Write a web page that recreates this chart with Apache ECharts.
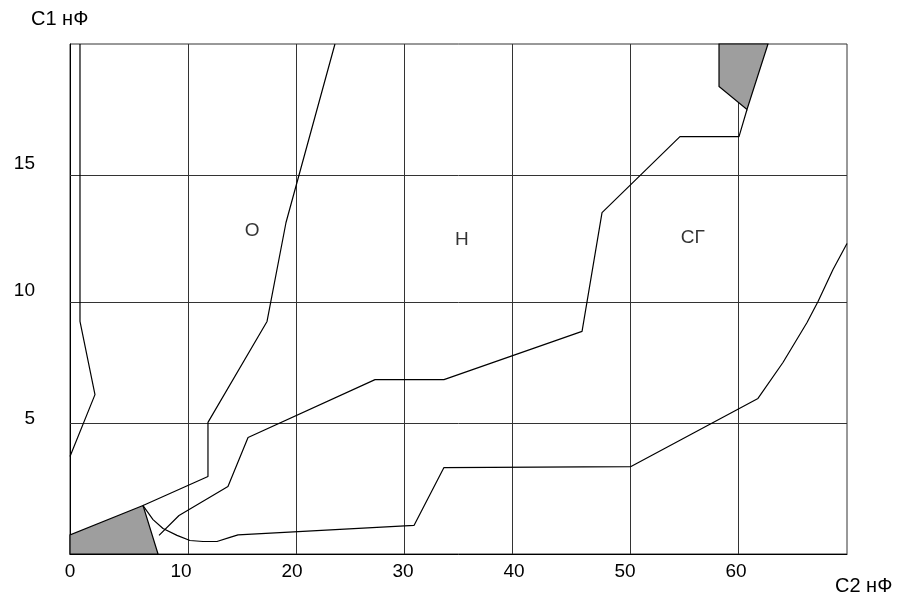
<!DOCTYPE html>
<html>
<head>
<meta charset="utf-8">
<script src="https://cdn.jsdelivr.net/npm/echarts@6/dist/echarts.min.js"></script>
<style>html,body{margin:0;padding:0;background:#fff}#c{width:899px;height:597px}</style>
</head>
<body>
<div id="c"></div>
<script>
// Axis ticks
const xTicks = [0, 10, 20, 30, 40, 50, 60];
const yTicks = [5, 10, 15];
// Grid line positions (as drawn in the diagram)
const xGridLines = [10.66, 20.41, 30.14, 39.88, 50.51, 60.24];
const yGridLines = [5.12, 9.89, 14.85];

// Boundary curves (C2 nF, C1 nF)
const curveA_x = [0, 2.25, 0.9, 0.9];
const curveA_y = [3.82, 6.25, 9.12, 20];

const curveB_x = [6.58, 12.43, 12.43, 17.75, 19.46, 23.87];
const curveB_y = [1.90, 3.04, 5.16, 9.12, 13.0, 20];

const curveC_x = [8.02, 9.82, 14.23, 16.04, 27.48, 33.69, 46.13, 47.93, 54.95, 60.27, 60.99];
const curveC_y = [0.73, 1.51, 2.65, 4.57, 6.84, 6.84, 8.73, 13.39, 16.37, 16.37, 17.43];

const curveD_x = [6.58, 7.48, 8.38, 9.64, 10.81, 11.98, 13.24, 14.41, 15.14, 30.99, 33.69, 50.54, 61.98, 64.23, 66.40, 67.39, 68.74, 70];
const curveD_y = [1.90, 1.35, 1.00, 0.73, 0.53, 0.49, 0.49, 0.65, 0.75, 1.12, 3.39, 3.43, 6.10, 7.51, 9.08, 9.90, 11.16, 12.18];

// Shaded regions
const poly1_x = [0, 0, 6.58, 7.93];
const poly1_y = [0, 0.75, 1.90, 0];
const poly2_x = [58.47, 62.88, 60.99, 58.47];
const poly2_y = [20, 20, 17.43, 18.33];

// Region labels
const regionNames = ['О', 'Н', 'СГ'];
const regionX = [16.4, 35.3, 56.1];
const regionY = [12.67, 12.33, 12.41];

const FONT = 'Arial, "Liberation Sans", sans-serif';
const zip = (xs, ys) => xs.map((x, i) => [x, ys[i]]);

function lineSeries(xs, ys) {
  return {
    type: 'line', data: zip(xs, ys), showSymbol: false, symbol: 'none',
    lineStyle: { color: '#000', width: 1.2 }, silent: true, animation: false, z: 11
  };
}
function polySeries(xs, ys) {
  return {
    type: 'custom', data: [[xs[0], ys[0]]], silent: true, animation: false, z: 10,
    renderItem: function (params, api) {
      const pts = xs.map((x, i) => api.coord([x, ys[i]]));
      return { type: 'polygon', shape: { points: pts },
        style: { fill: '#9e9e9e', stroke: '#000', lineWidth: 1.2 } };
    }
  };
}

const chart = echarts.init(document.getElementById('c'), null, { renderer: 'canvas' });
chart.setOption({
  animation: false,
  backgroundColor: '#fff',
  grid: { left: 70, top: 44, width: 777, height: 510, show: true, borderColor: '#333', borderWidth: 1 },
  xAxis: {
    type: 'value', min: 0, max: 70, interval: 10,
    splitLine: { show: false },
    axisLine: { show: true, lineStyle: { color: '#000', width: 1 } },
    axisTick: { show: false },
    axisLabel: {
      margin: 8, fontSize: 19, color: '#000', fontFamily: FONT,
      formatter: v => (xTicks.indexOf(v) >= 0 ? String(v) : '')
    }
  },
  yAxis: {
    type: 'value', min: 0, max: 20, interval: 5,
    splitLine: { show: false },
    axisLine: { show: true, lineStyle: { color: '#000', width: 1 } },
    axisTick: { show: false },
    axisLabel: {
      margin: 35, fontSize: 19, lineHeight: 16, color: '#000', fontFamily: FONT, verticalAlign: 'bottom',
      formatter: v => (yTicks.indexOf(v) >= 0 ? String(v) : '')
    }
  },
  graphic: [
    { type: 'text', x: 31, y: 19, silent: true,
      style: { text: 'С1 нФ', fontSize: 20, fontFamily: FONT, fill: '#000', align: 'left', verticalAlign: 'middle' } },
    { type: 'text', x: 835, y: 586, silent: true,
      style: { text: 'С2 нФ', fontSize: 20, fontFamily: FONT, fill: '#000', align: 'left', verticalAlign: 'middle' } }
  ],
  series: [
    {
      type: 'line', data: [], silent: true, animation: false, z: 1,
      markLine: {
        z: 1, silent: true, symbol: 'none', label: { show: false }, animation: false,
        lineStyle: { color: '#333', width: 1, type: 'solid' },
        data: xGridLines.map(v => ({ xAxis: v })).concat(yGridLines.map(v => ({ yAxis: v })))
      }
    },
    polySeries(poly1_x, poly1_y),
    polySeries(poly2_x, poly2_y),
    lineSeries(curveA_x, curveA_y),
    lineSeries(curveB_x, curveB_y),
    lineSeries(curveC_x, curveC_y),
    lineSeries(curveD_x, curveD_y),
    {
      type: 'scatter', symbolSize: 0, silent: true, animation: false, z: 12,
      data: regionNames.map((n, i) => ({ name: n, value: [regionX[i], regionY[i]] })),
      label: { show: true, position: 'inside', formatter: p => p.name, fontSize: 19, color: '#000', fontFamily: FONT }
    }
  ]
});
</script>
</body>
</html>
